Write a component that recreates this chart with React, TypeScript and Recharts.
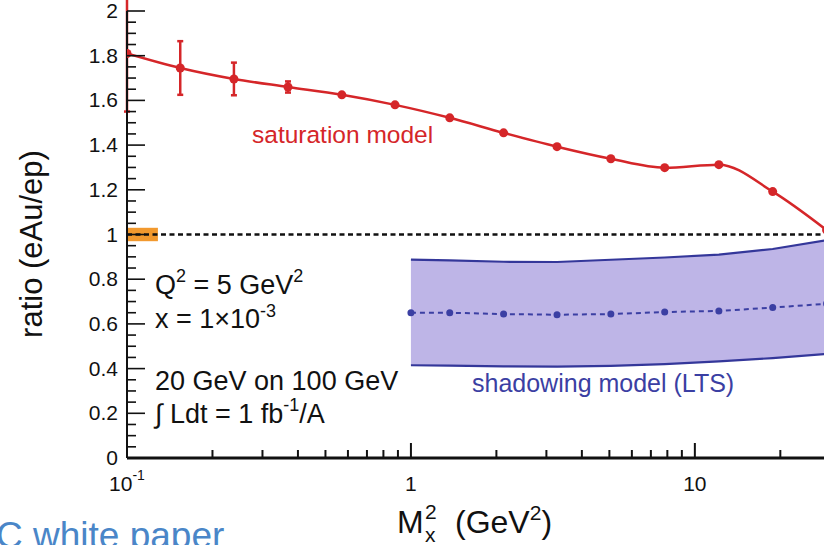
import React from "react";
import {
  ComposedChart,
  Line,
  Area,
  XAxis,
  YAxis,
  ErrorBar,
  ReferenceLine,
  ReferenceArea,
} from "recharts";

// saturation model (red)
const satX = [0.1, 0.154, 0.238, 0.369, 0.571, 0.879, 1.37, 2.12, 3.27, 5.06, 7.83, 12.15, 18.8, 29.1];
const satY = [1.81, 1.745, 1.696, 1.66, 1.625, 1.58, 1.522, 1.455, 1.393, 1.339, 1.299, 1.3125, 1.192, 1.02];
const satErr = [0.26, 0.12, 0.073, 0.025, 0, 0, 0, 0, 0, 0, 0, 0, 0, 0];

// shadowing model (LTS), blue
const shadowX = [1.0, 1.37, 2.12, 3.27, 5.06, 7.83, 12.15, 18.8, 29.1];
const shadowY = [0.65, 0.65, 0.644, 0.641, 0.644, 0.653, 0.658, 0.673, 0.69];
const bandLow = [0.415, 0.413, 0.41, 0.409, 0.412, 0.42, 0.432, 0.447, 0.466];
const bandHigh = [0.888, 0.884, 0.878, 0.877, 0.887, 0.897, 0.91, 0.935, 0.975];

const xTicks = [0.1, 0.2, 0.3, 0.4, 0.5, 0.6, 0.7, 0.8, 0.9, 1, 2, 3, 4, 5, 6, 7, 8, 9, 10, 20];
const xMajor = [0.1, 1, 10];
const yTicks = [
  0, 0.05, 0.1, 0.15, 0.2, 0.25, 0.3, 0.35, 0.4, 0.45, 0.5, 0.55, 0.6, 0.65, 0.7, 0.75, 0.8, 0.85, 0.9, 0.95,
  1, 1.05, 1.1, 1.15, 1.2, 1.25, 1.3, 1.35, 1.4, 1.45, 1.5, 1.55, 1.6, 1.65, 1.7, 1.75, 1.8, 1.85, 1.9, 1.95, 2,
];
const yMajor = [0, 0.2, 0.4, 0.6, 0.8, 1, 1.2, 1.4, 1.6, 1.8, 2];
const yLabels = ["0", "0.2", "0.4", "0.6", "0.8", "1", "1.2", "1.4", "1.6", "1.8", "2"];

const satData = satX.map((x, i) => ({ x, y: satY[i], err: satErr[i] }));
const shadowData = shadowX.map((x, i) => ({ x, y: shadowY[i], band: [bandLow[i], bandHigh[i]] }));

const FONT = "'Liberation Sans', Arial, Helvetica, sans-serif";
const RED = "#D52629";
const BLUE = "#3B3FA3";
const INK = "#111";

const near = (a: number, b: number) => Math.abs(a - b) < 1e-6;

const XTick = (props: any) => {
  const { x, y, payload } = props;
  const v = payload.value;
  const major = xMajor.some((m) => near(m, v));
  return (
    <g>
      <line x1={x} x2={x} y1={y} y2={y - (major ? 15 : 8)} stroke={INK} strokeWidth={2} />
      {major && near(v, 0.1) && (
        <text x={x} y={y + 33} textAnchor="middle" fontSize={21} fill={INK} fontFamily={FONT}>
          10
          <tspan dy={-11} fontSize={14}>
            -1
          </tspan>
        </text>
      )}
      {major && !near(v, 0.1) && (
        <text x={x} y={y + 33} textAnchor="middle" fontSize={21} fill={INK} fontFamily={FONT}>
          {near(v, 1) ? "1" : "10"}
        </text>
      )}
    </g>
  );
};

const YTick = (props: any) => {
  const { x, y, payload } = props;
  const v = payload.value;
  const idx = yMajor.findIndex((m) => near(m, v));
  const major = idx >= 0;
  return (
    <g>
      <line x1={x} x2={x + (major ? 18 : 9)} y1={y} y2={y} stroke={INK} strokeWidth={1.6} />
      {major && (
        <text x={x - 9} y={y + 7} textAnchor="end" fontSize={21} fill={INK} fontFamily={FONT}>
          {yLabels[idx]}
        </text>
      )}
    </g>
  );
};

export default function App() {
  return (
    <div style={{ position: "absolute", left: 0, top: 0, width: 824, height: 545, background: "#fff", overflow: "hidden" }}>
      <ComposedChart width={824} height={545} margin={{ top: 11, right: 0, bottom: 0, left: 0 }}>
        <XAxis
          dataKey="x"
          type="number"
          scale="log"
          domain={[0.1, 28.5]}
          allowDataOverflow
          ticks={xTicks}
          interval={0}
          tick={(p: any) => <XTick {...p} />}
          tickSize={0}
          tickMargin={0}
          tickLine={false}
          height={87}
          axisLine={{ stroke: INK, strokeWidth: 3 }}
        />
        <XAxis
          xAxisId="top"
          orientation="top"
          type="number"
          domain={[0, 1]}
          height={0}
          tick={false}
          tickLine={false}
          axisLine={{ stroke: INK, strokeWidth: 3 }}
        />
        <YAxis
          type="number"
          domain={[0, 2]}
          allowDataOverflow
          ticks={yTicks}
          interval={0}
          tick={(p: any) => <YTick {...p} />}
          tickSize={0}
          tickMargin={0}
          tickLine={false}
          width={127}
          axisLine={{ stroke: INK, strokeWidth: 2 }}
        />
        <ReferenceArea x1={0.1} x2={0.1285} y1={0.97} y2={1.03} fill="#F2992E" fillOpacity={1} stroke="none" />
        <ReferenceLine y={1} stroke={INK} strokeDasharray="5 3.5" strokeWidth={2.5} />
        <Area
          data={shadowData}
          dataKey="band"
          type="linear"
          fill="#BEB5E7"
          fillOpacity={1}
          stroke="#34379A"
          strokeWidth={2.2}
          dot={false}
          activeDot={false}
          isAnimationActive={false}
        />
        <Line
          data={shadowData}
          dataKey="y"
          type="linear"
          stroke={BLUE}
          strokeWidth={2}
          strokeDasharray="5 4"
          dot={{ r: 3.5, fill: BLUE, stroke: "none" }}
          activeDot={false}
          isAnimationActive={false}
        />
        <Line
          data={satData}
          dataKey="y"
          type="monotone"
          stroke={RED}
          strokeWidth={2.5}
          dot={{ r: 4.5, fill: RED, stroke: "none" }}
          activeDot={false}
          isAnimationActive={false}
        >
          <ErrorBar dataKey="err" direction="y" width={3} stroke={RED} strokeWidth={2.5} isAnimationActive={false} />
        </Line>
      </ComposedChart>
      <svg
        width={824}
        height={545}
        style={{ position: "absolute", left: 0, top: 0, pointerEvents: "none" }}
        fontFamily={FONT}
      >
        <text transform="translate(42,244) rotate(-90)" textAnchor="middle" fontSize={31} fill={INK}>
          ratio (eAu/ep)
        </text>
        <text x={397} y={533} fontSize={32} fill={INK}>
          M
        </text>
        <text x={425} y={519} fontSize={21} fill={INK}>
          2
        </text>
        <text x={425} y={542} fontSize={21} fill={INK}>
          x
        </text>
        <text x={455} y={533} fontSize={32} fill={INK}>
          (GeV<tspan dy={-13} fontSize={21}>2</tspan>
          <tspan dy={13}>)</tspan>
        </text>
        <text x={252} y={143} fontSize={24.5} fill={RED}>
          saturation model
        </text>
        <text x={472} y={392} fontSize={25} fill={BLUE}>
          shadowing model (LTS)
        </text>
        <g fontSize={27} fill={INK}>
          <text x={155} y={294}>
            Q<tspan dy={-12} fontSize={18}>2</tspan>
            <tspan dy={12}> = 5 GeV</tspan>
            <tspan dy={-12} fontSize={18}>2</tspan>
          </text>
          <text x={155} y={328}>
            x = 1×10<tspan dy={-11} fontSize={18}>-3</tspan>
          </text>
          <text x={155} y={390}>20 GeV on 100 GeV</text>
          <text x={155} y={423}>
            ∫ Ldt = 1 fb<tspan dy={-12} fontSize={18}>-1</tspan>
            <tspan dy={12}>/A</tspan>
          </text>
        </g>
        <text x={-4} y={548} fontSize={37} fill="#4A86C8">
          C white paper
        </text>
      </svg>
    </div>
  );
}
